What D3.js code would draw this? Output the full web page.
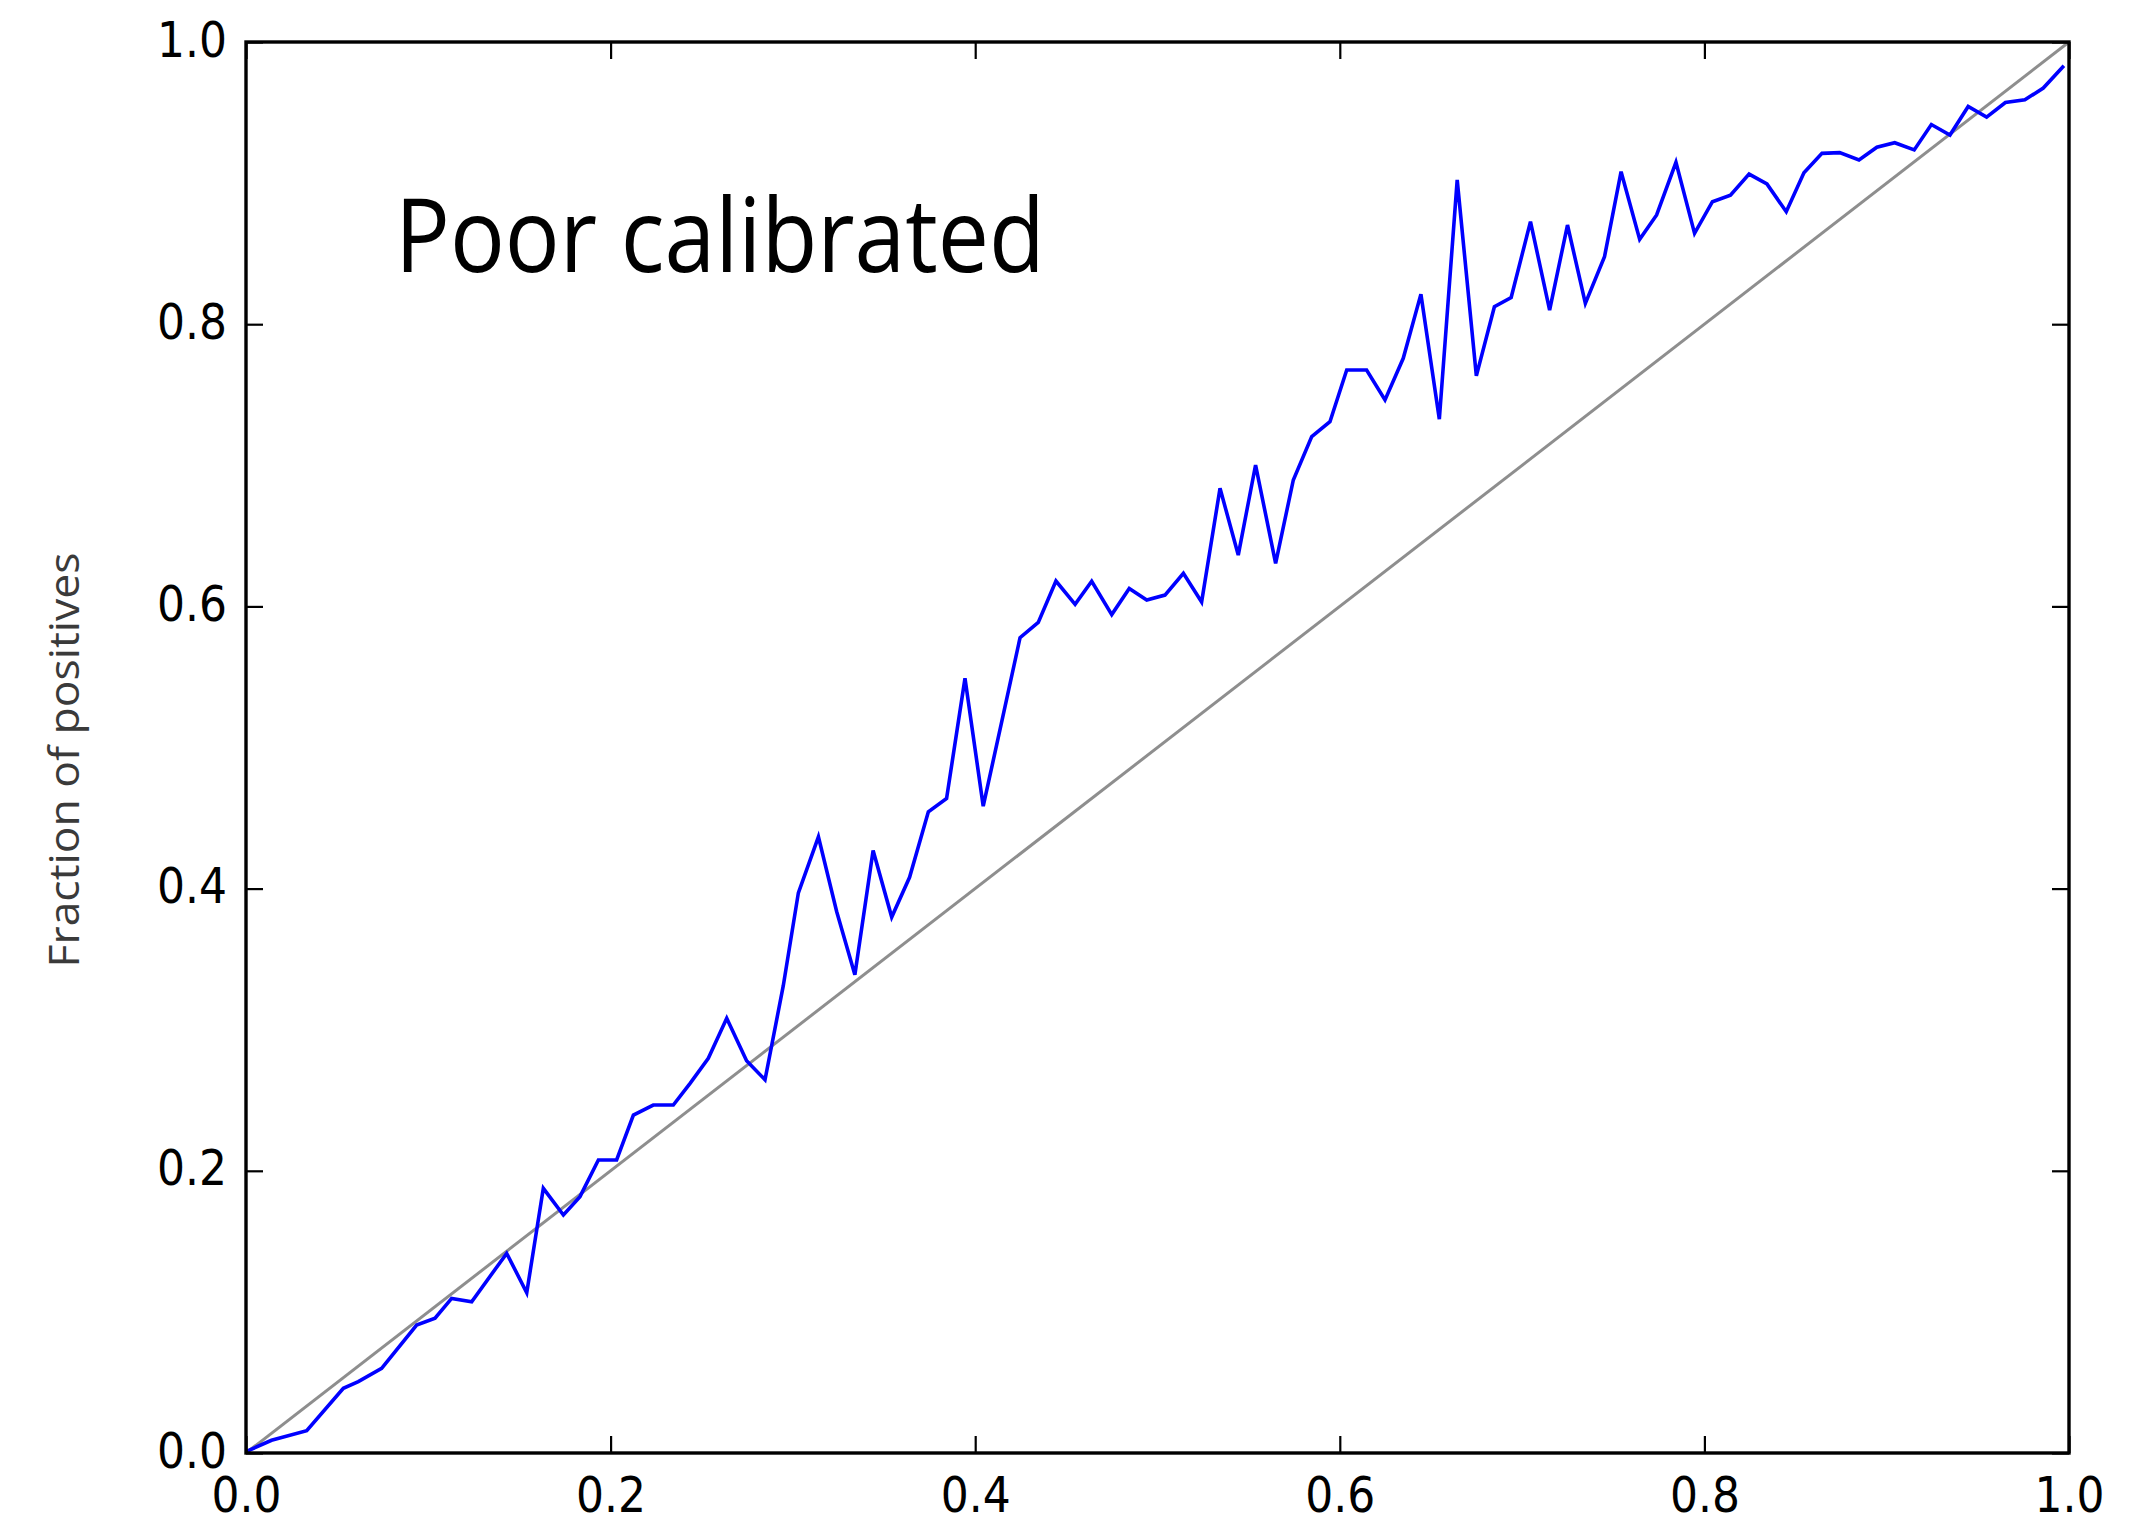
<!DOCTYPE html>
<html>
<head>
<meta charset="utf-8">
<script src="https://cdn.jsdelivr.net/npm/d3@7"></script>
<style>
  html, body { margin: 0; padding: 0; background: #fff; }
  svg { display: block; }
</style>
</head>
<body>
<svg id="chart" width="2152" height="1524"></svg>
<script>
// Calibration curve: mean predicted probability per bin vs. observed fraction of positives
const meanPredicted = [
  0.000, 0.014, 0.0333, 0.0534, 0.0616, 0.0744, 0.0936, 0.1037, 0.1128, 0.1238,
  0.1430, 0.1540, 0.1631, 0.1741, 0.1832, 0.1933, 0.2033, 0.2125, 0.2234, 0.2344,
  0.2436, 0.2536, 0.2637, 0.2746, 0.2847, 0.2947, 0.3030, 0.3140, 0.3240, 0.3340,
  0.3440, 0.3542, 0.3640, 0.3743, 0.3843, 0.3944, 0.4044, 0.4145, 0.4246, 0.4346,
  0.4443, 0.4548, 0.4639, 0.4749, 0.4845, 0.4941, 0.5041, 0.5142, 0.5242, 0.5343,
  0.5443, 0.5538, 0.5648, 0.5745, 0.5846, 0.5946, 0.6038, 0.6147, 0.6248, 0.6348,
  0.6445, 0.6546, 0.6644, 0.6749, 0.6848, 0.6940, 0.7046, 0.7151, 0.7249, 0.7347,
  0.7452, 0.7543, 0.7645, 0.7738, 0.7844, 0.7946, 0.8044, 0.8143, 0.8245, 0.8343,
  0.8449, 0.8546, 0.8645, 0.8742, 0.8848, 0.8946, 0.9044, 0.9151, 0.9245, 0.9347,
  0.9447, 0.9548, 0.9651, 0.9758, 0.9859, 0.9972
];
const fractionPositives = [
  0.001, 0.009, 0.0158, 0.0459, 0.0506, 0.0600, 0.0907, 0.0955, 0.1096, 0.1072,
  0.1415, 0.1136, 0.1876, 0.1687, 0.1817, 0.2077, 0.2077, 0.2395, 0.2466, 0.2466,
  0.2620, 0.2797, 0.3081, 0.2780, 0.2645, 0.3310, 0.3970, 0.4367, 0.3838, 0.3390,
  0.4270, 0.3798, 0.4080, 0.4544, 0.4639, 0.5490, 0.4584, 0.5180, 0.5778, 0.5886,
  0.6180, 0.6015, 0.6178, 0.5942, 0.6127, 0.6045, 0.6080, 0.6235, 0.6031, 0.6837,
  0.6364, 0.7002, 0.6305, 0.6896, 0.7203, 0.7309, 0.7675, 0.7675, 0.7463, 0.7758,
  0.8213, 0.7327, 0.9022, 0.7634, 0.8124, 0.8189, 0.8727, 0.8100, 0.8703, 0.8148,
  0.8478, 0.9081, 0.8601, 0.8774, 0.9147, 0.8644, 0.8868, 0.8915, 0.9064, 0.8994,
  0.8797, 0.9074, 0.9211, 0.9216, 0.9164, 0.9254, 0.9286, 0.9235, 0.9415, 0.9341,
  0.9543, 0.9468, 0.9571, 0.9590, 0.9674, 0.9832
];
// Perfectly calibrated reference
const diagonal = [0, 1];
const tickValues = [0.0, 0.2, 0.4, 0.6, 0.8, 1.0];
const titleText = "Poor calibrated";
const yLabelText = "Fraction of positives";

const svg = d3.select("#chart");
const plot = { left: 246, right: 2069, top: 42, bottom: 1453 };

const x = d3.scaleLinear().domain([0, 1]).range([plot.left, plot.right]);
const y = d3.scaleLinear().domain([0, 1]).range([plot.bottom, plot.top]);

const tickFont = "'DejaVu Sans', sans-serif";
const squeeze = 0.88;
const fmt = d3.format(".1f");

// Diagonal
svg.append("path")
  .datum(diagonal)
  .attr("fill", "none")
  .attr("stroke", "#8e8e8e")
  .attr("stroke-width", 3)
  .attr("d", d3.line().x(d => x(d)).y(d => y(d)));

// Calibration curve
const pts = meanPredicted.map((m, i) => [m, fractionPositives[i]]);
svg.append("path")
  .datum(pts)
  .attr("fill", "none")
  .attr("stroke", "#0000ff")
  .attr("stroke-width", 3.6)
  .attr("stroke-linejoin", "miter")
  .attr("d", d3.line().x(d => x(d[0])).y(d => y(d[1])));

// Axes with inward ticks on all four sides
const tickLen = 17;
function styleAxis(g) {
  g.select(".domain").remove();
  g.selectAll(".tick line").attr("stroke", "#000").attr("stroke-width", 2.2);
}

const bottomAxis = svg.append("g")
  .attr("transform", `translate(0,${plot.bottom})`)
  .call(d3.axisBottom(x).tickValues(tickValues).tickFormat(fmt).tickSizeInner(-tickLen).tickSizeOuter(0));
styleAxis(bottomAxis);
bottomAxis.selectAll(".tick text")
  .attr("x", 0).attr("y", 0).attr("dy", null)
  .attr("transform", `translate(0,59) scale(${squeeze},1)`)
  .attr("font-family", tickFont).attr("font-size", 50).attr("fill", "#000");

const topAxis = svg.append("g")
  .attr("transform", `translate(0,${plot.top})`)
  .call(d3.axisTop(x).tickValues(tickValues).tickFormat("").tickSizeInner(-tickLen).tickSizeOuter(0));
styleAxis(topAxis);

const leftAxis = svg.append("g")
  .attr("transform", `translate(${plot.left},0)`)
  .call(d3.axisLeft(y).tickValues(tickValues).tickFormat(fmt).tickSizeInner(-tickLen).tickSizeOuter(0));
styleAxis(leftAxis);
leftAxis.selectAll(".tick text")
  .attr("x", 0).attr("y", 0).attr("dy", null)
  .attr("text-anchor", "end")
  .attr("transform", `translate(-19,14) scale(${squeeze},1)`)
  .attr("font-family", tickFont).attr("font-size", 50).attr("fill", "#000");

const rightAxis = svg.append("g")
  .attr("transform", `translate(${plot.right},0)`)
  .call(d3.axisRight(y).tickValues(tickValues).tickFormat("").tickSizeInner(-tickLen).tickSizeOuter(0));
styleAxis(rightAxis);

// Frame
svg.append("rect")
  .attr("x", plot.left).attr("y", plot.top)
  .attr("width", plot.right - plot.left).attr("height", plot.bottom - plot.top)
  .attr("fill", "none").attr("stroke", "#000").attr("stroke-width", 3.4);

// Y axis label
svg.append("text")
  .attr("transform", "translate(79,760) rotate(-90)")
  .attr("text-anchor", "middle")
  .attr("font-family", "'Open Sans', sans-serif")
  .attr("font-size", 42)
  .attr("fill", "#3a3a3a")
  .attr("textLength", 415)
  .attr("lengthAdjust", "spacingAndGlyphs")
  .text(yLabelText);

// Annotation
svg.append("text")
  .attr("x", 395).attr("y", 272)
  .attr("font-family", "'Open Sans', sans-serif")
  .attr("font-size", 103)
  .attr("fill", "#000")
  .attr("textLength", 650)
  .attr("lengthAdjust", "spacingAndGlyphs")
  .text(titleText);
</script>
</body>
</html>
